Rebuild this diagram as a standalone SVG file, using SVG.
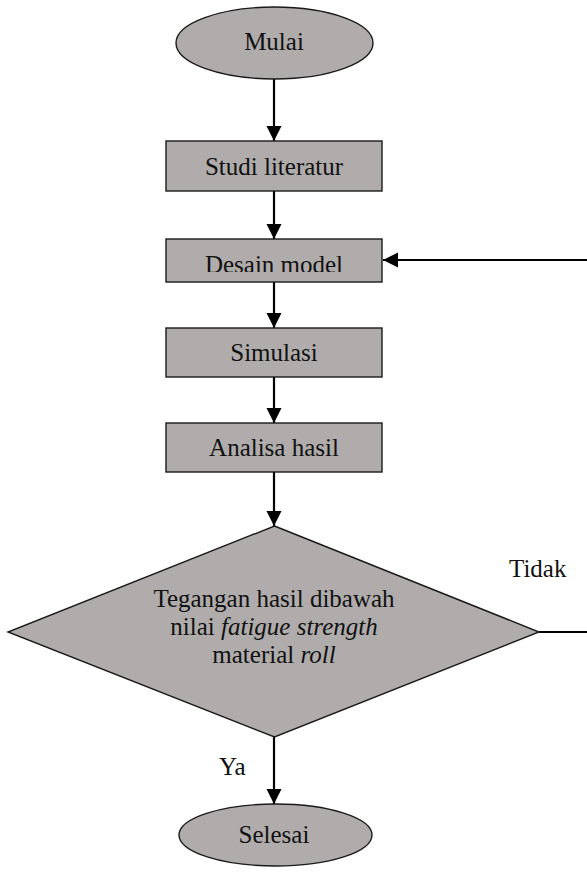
<svg xmlns="http://www.w3.org/2000/svg" width="587" height="874" viewBox="0 0 587 874">
<style>
.shape{fill:#afacab;stroke:#1a1a1a;stroke-width:1.4}
.t{font-family:"Liberation Serif","Times New Roman",serif;font-size:25px;fill:#111;text-anchor:middle}
.lbl{font-family:"Liberation Serif","Times New Roman",serif;font-size:25px;fill:#111}
.c{fill:none;stroke:#000;stroke-width:2.2}
</style>
<defs>
<marker id="ah" markerUnits="userSpaceOnUse" markerWidth="16" markerHeight="16" refX="15" refY="7.5" orient="auto">
<path d="M0,0 L15,7.5 L0,15 z" fill="#000"/>
</marker>
<clipPath id="clipDesain"><rect x="166" y="239" width="216" height="33"/></clipPath>
</defs>
<g id="connectors">
<line class="c" x1="274" y1="79" x2="274" y2="141" marker-end="url(#ah)"/>
<line class="c" x1="274" y1="191" x2="274" y2="239" marker-end="url(#ah)"/>
<line class="c" x1="274" y1="282" x2="274" y2="328" marker-end="url(#ah)"/>
<line class="c" x1="274" y1="377" x2="274" y2="423" marker-end="url(#ah)"/>
<line class="c" x1="274" y1="472" x2="274" y2="526" marker-end="url(#ah)"/>
<line class="c" x1="274" y1="737" x2="274" y2="804" marker-end="url(#ah)"/>
<polyline class="c" points="539,632 592,632 592,260 383,260" marker-end="url(#ah)"/>
<text class="lbl" x="509" y="577">Tidak</text>
<text class="lbl" x="219" y="775">Ya</text>
</g>
<g id="mulai">
<ellipse class="shape" cx="274.5" cy="43" rx="98.5" ry="36"/>
<text class="t" x="274" y="50">Mulai</text>
</g>
<g id="studi">
<rect class="shape" x="166" y="141" width="216" height="50"/>
<text class="t" x="274" y="175">Studi literatur</text>
</g>
<g id="desain">
<rect class="shape" x="166" y="239" width="216" height="43"/>
<text class="t" x="274" y="273" clip-path="url(#clipDesain)">Desain model</text>
</g>
<g id="simulasi">
<rect class="shape" x="166" y="328" width="216" height="49"/>
<text class="t" x="274" y="361">Simulasi</text>
</g>
<g id="analisa">
<rect class="shape" x="166" y="423" width="216" height="49"/>
<text class="t" x="274" y="456">Analisa hasil</text>
</g>
<g id="keputusan">
<polygon class="shape" points="274.5,526 539,632 274.5,737 8,632"/>
<text class="t" x="274" y="607">Tegangan hasil dibawah</text>
<text class="t" x="274" y="635">nilai <tspan font-style="italic">fatigue strength</tspan></text>
<text class="t" x="274" y="663">material <tspan font-style="italic">roll</tspan></text>
</g>
<g id="selesai">
<ellipse class="shape" cx="275.5" cy="835" rx="96.5" ry="31"/>
<text class="t" x="274" y="843">Selesai</text>
</g>
</svg>
